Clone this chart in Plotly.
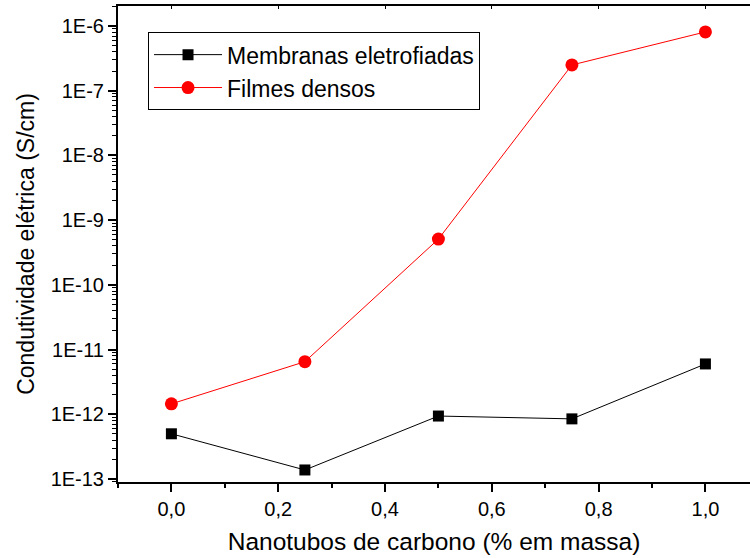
import plotly.graph_objects as go

# Data
carbon_nanotubes = [0.0, 0.25, 0.5, 0.75, 1.0]
membranas = [5.0e-13, 1.38e-13, 9.4e-13, 8.5e-13, 6.0e-12]
filmes = [1.45e-12, 6.5e-12, 5.1e-10, 2.5e-7, 8.1e-7]
y_tick_vals = [1e-13, 1e-12, 1e-11, 1e-10, 1e-9, 1e-8, 1e-7, 1e-6]
y_tick_text = ["1E-13", "1E-12", "1E-11", "1E-10", "1E-9", "1E-8", "1E-7", "1E-6"]

FONT = "Liberation Sans, Arial, sans-serif"

fig = go.Figure()
fig.add_trace(go.Scatter(
    x=carbon_nanotubes, y=membranas, mode="lines+markers",
    name="Membranas eletrofiadas",
    line=dict(color="black", width=1),
    marker=dict(symbol="square", size=11, color="black"),
))
fig.add_trace(go.Scatter(
    x=carbon_nanotubes, y=filmes, mode="lines+markers",
    name="Filmes densos",
    line=dict(color="red", width=1),
    marker=dict(symbol="circle", size=13, color="red"),
))

xrange = [-0.1, 1.0835]
fig.update_layout(
    width=750, height=558,
    margin=dict(l=118, r=0, t=6, b=76),
    paper_bgcolor="white", plot_bgcolor="white",
    separators=",.",
    font=dict(family=FONT, color="black", size=20),
    showlegend=True,
    legend=dict(
        x=0.0475, y=0.945, xanchor="left", yanchor="top",
        bgcolor="white", bordercolor="black", borderwidth=1,
        font=dict(size=23, family=FONT, color="black"),
        tracegroupgap=0, itemwidth=68,
    ),
    xaxis=dict(
        range=xrange, showgrid=False, zeroline=False,
        showline=True, linewidth=2, linecolor="black",
        ticks="outside", ticklen=8, tickwidth=1.5, tickcolor="black",
        tick0=0, dtick=0.2, tickformat=".1f",
        ticklabelstandoff=0,
        minor=dict(dtick=0.1, ticks="outside", ticklen=4, tickwidth=1.5, tickcolor="black", showgrid=False),
        tickfont=dict(size=20),
        title=dict(text="Nanotubos de carbono (% em massa)", font=dict(size=24.5), standoff=14),
    ),
    xaxis2=dict(
        range=xrange, overlaying="x", side="top", anchor="y",
        showgrid=False, zeroline=False,
        showline=True, linewidth=2, linecolor="black",
        ticks="inside", ticklen=3, tickwidth=1, tickcolor="black",
        tick0=0, dtick=0.2, showticklabels=False,
    ),
    yaxis=dict(
        type="log", range=[-13.046, -5.691],
        showgrid=False, zeroline=False,
        showline=True, linewidth=2, linecolor="black",
        ticks="outside", ticklen=8, tickwidth=1.5, tickcolor="black",
        tickmode="array", tickvals=y_tick_vals, ticktext=y_tick_text,
        minor=dict(dtick="D1", ticks="outside", ticklen=4, tickwidth=1, tickcolor="black", showgrid=False),
        tickfont=dict(size=20),
        title=dict(text="Condutividade elétrica (S/cm)", font=dict(size=23), standoff=10),
    ),
)
fig.add_trace(go.Scatter(x=[None], y=[None], xaxis="x2", showlegend=False, hoverinfo="skip"))

fig.write_html("out.html")
